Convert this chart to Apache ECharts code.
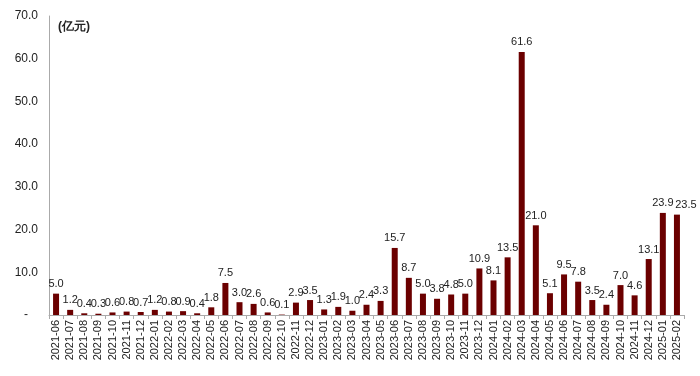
<!DOCTYPE html>
<html><head><meta charset="utf-8">
<script src="https://cdn.jsdelivr.net/npm/echarts@6/dist/echarts.min.js"></script>
<style>html,body{margin:0;padding:0;background:#fff}#c{width:700px;height:376px}</style>
</head><body><div id="c"></div>
<script>
var categories = ['2021-06','2021-07','2021-08','2021-09','2021-10','2021-11','2021-12',
'2022-01','2022-02','2022-03','2022-04','2022-05','2022-06','2022-07','2022-08','2022-09','2022-10','2022-11','2022-12',
'2023-01','2023-02','2023-03','2023-04','2023-05','2023-06','2023-07','2023-08','2023-09','2023-10','2023-11','2023-12',
'2024-01','2024-02','2024-03','2024-04','2024-05','2024-06','2024-07','2024-08','2024-09','2024-10','2024-11','2024-12',
'2025-01','2025-02'];
var values = [5.0,1.2,0.4,0.3,0.6,0.8,0.7,
1.2,0.8,0.9,0.4,1.8,7.5,3.0,2.6,0.6,0.1,2.9,3.5,
1.3,1.9,1.0,2.4,3.3,15.7,8.7,5.0,3.8,4.8,5.0,10.9,
8.1,13.5,61.6,21.0,5.1,9.5,7.8,3.5,2.4,7.0,4.6,13.1,
23.9,23.5];
var unitLabel = '(亿元)';
var chart = echarts.init(document.getElementById('c'));
var font = 'Liberation Sans, Arial, sans-serif';
var seriesData = values.map(function (v, i) {
  var d = {value: v};
  if (i === values.length - 1) d.label = {offset: [9, 0]};
  return d;
});
chart.setOption({
  animation: false,
  grid: {left: 49, right: 16, top: 16, bottom: 61},
  graphic: [{type: 'text', left: 58, top: 21, style: {text: unitLabel, font: 'bold 12px ' + font, fill: '#222'}}],
  xAxis: {
    type: 'category', data: categories,
    axisLine: {lineStyle: {color: '#aaa'}},
    axisTick: {show: true, length: 4, lineStyle: {color: '#aaa'}},
    axisLabel: {rotate: 90, interval: 0, fontFamily: font, fontSize: 11, color: '#222', margin: 5}
  },
  yAxis: {
    type: 'value', min: 0, max: 70, interval: 10,
    axisLine: {show: true, lineStyle: {color: '#aaa'}},
    axisTick: {show: false},
    splitLine: {show: false},
    axisLabel: {fontFamily: font, fontSize: 12, color: '#222', margin: 11,
      formatter: function (v) { return v === 0 ? '-   ' : v.toFixed(1); }}
  },
  series: [{
    type: 'bar', data: seriesData, barWidth: 6,
    itemStyle: {color: '#6B0000'},
    label: {show: true, position: 'top', distance: 4, fontFamily: font, fontSize: 11, color: '#222',
      formatter: function (p) { return p.value.toFixed(1); }}
  }]
});
</script></body></html>
